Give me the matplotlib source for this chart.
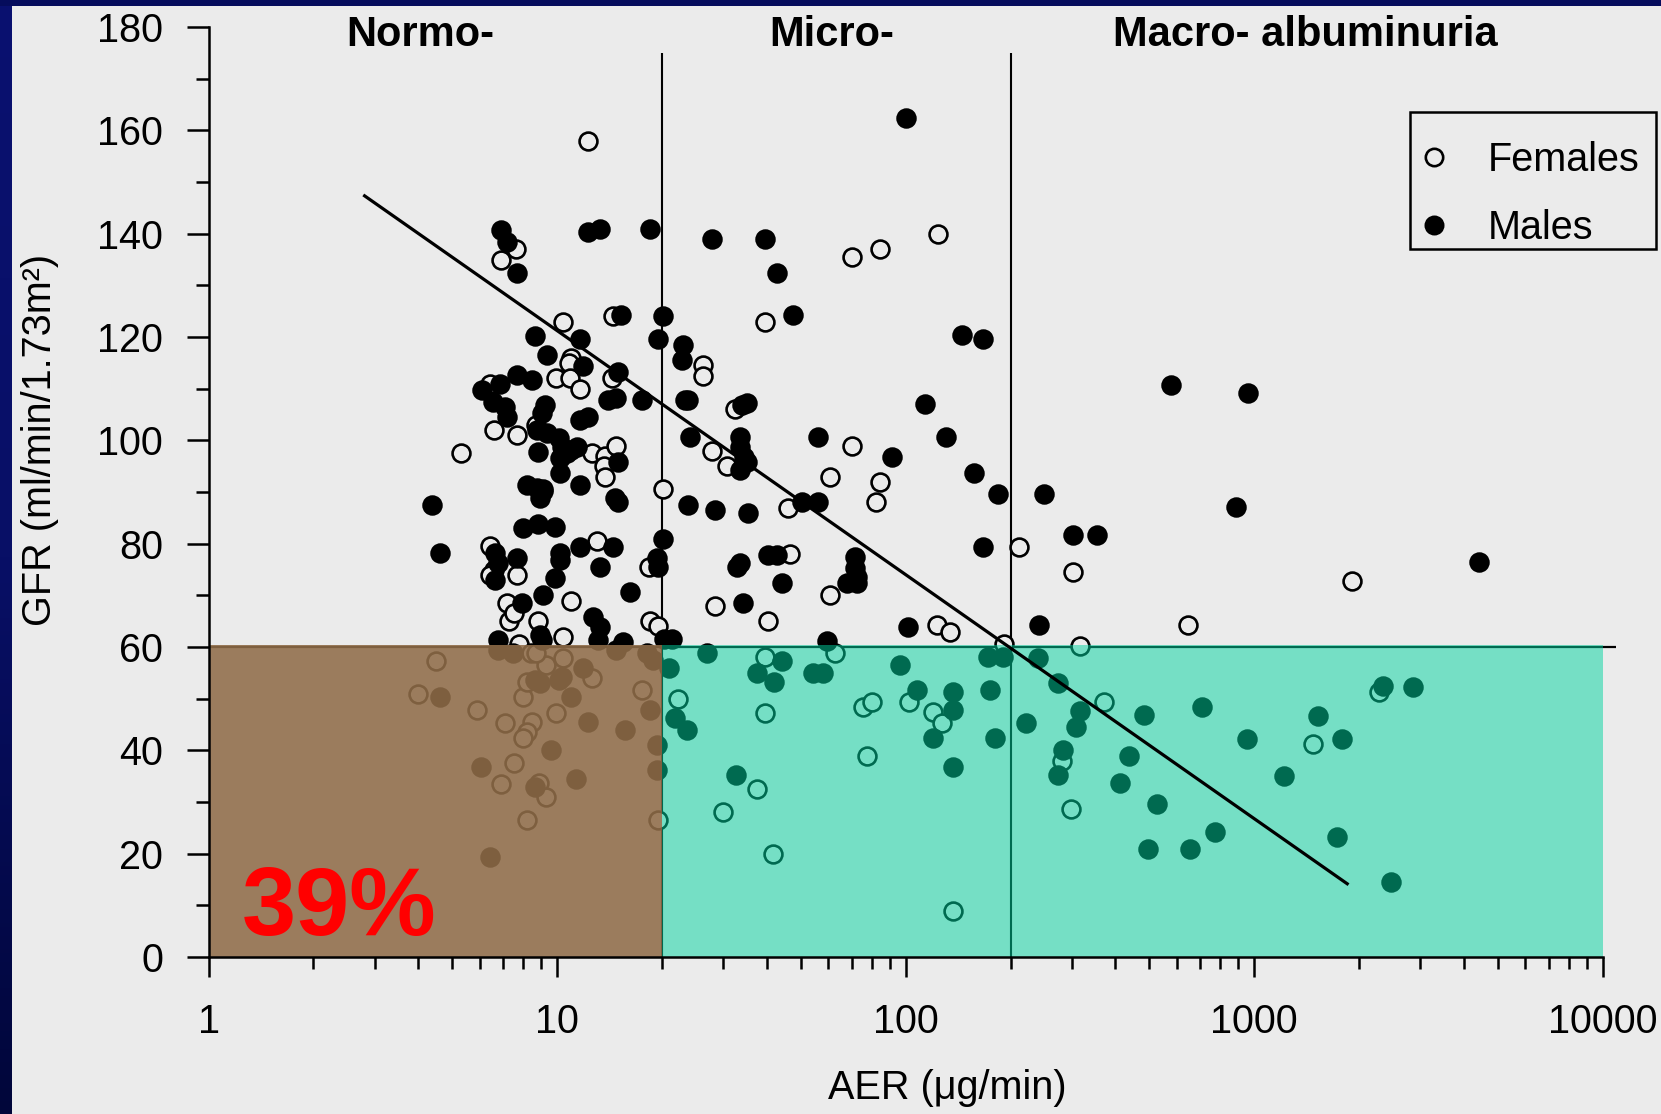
import numpy as np
import matplotlib
matplotlib.use('Agg')
import matplotlib.pyplot as plt
from matplotlib.patches import Rectangle
from matplotlib.lines import Line2D
from matplotlib.colors import LinearSegmentedColormap
from matplotlib.ticker import FixedLocator, LogLocator, NullFormatter

plt.rcParams['font.family'] = ['Liberation Sans', 'DejaVu Sans']

# ---------------- data ----------------
series_names = ['Females', 'Males']
region_titles = ['Normo-', 'Micro-', 'Macro- albuminuria']
thresholds_aer = [20, 200]
gfr_cut = 60
share_label = '39%'

x_major = [1, 10, 100, 1000, 10000]
x_labels = ['1', '10', '100', '1000', '10000']
y_major = [0, 20, 40, 60, 80, 100, 120, 140, 160, 180]

female_aer = [12.3, 7.6, 6.9, 10.4, 11.0, 10.8, 9.9, 10.9, 11.6, 14.4,
              6.4, 6.6, 7.7, 8.7, 5.3, 12.6, 13.7, 13.6, 13.7, 14.8,
              9.1, 20.2, 6.4, 6.6, 6.4, 7.7, 13.0, 11.0, 7.2, 7.3,
              7.5, 8.8, 18.3, 18.5, 19.5, 10.4, 14.5, 124, 84.5, 70,
              39.5, 26.3, 26.3, 32.4, 27.8, 30.7, 70, 60.7, 84.5, 82.3,
              46, 46.6, 60.7, 28.4, 40.4, 123, 134, 212, 302, 1905,
              644, 316, 192, 7.8,
              4.5, 4.0, 5.9, 7.1, 8.0, 8.5, 8.2, 8.0, 7.5, 6.9,
              8.9, 9.3, 8.2, 9.9, 9.3, 10.4, 8.2, 8.4, 8.7, 12.6,
              17.5, 19.5,
              39.5, 62.8, 22.3, 39.5, 75.7, 80, 102, 120, 127, 77.7,
              37.4, 30, 41.6, 137, 370, 281, 299, 1479, 2280]
female_gfr = [158, 137, 135, 123, 116, 115, 112, 112, 110, 112,
              111, 102, 101, 103, 97.5, 97.5, 97, 95, 93, 99,
              90.5, 90.5, 79.5, 75, 74, 74, 80.5, 69, 68.5, 65,
              66.5, 65, 75.5, 65, 64, 62, 124, 140, 137, 135.5,
              123, 114.5, 112.5, 106, 98, 95, 99, 93, 92, 88,
              87, 78, 70, 68, 65, 64.3, 63, 79.3, 74.6, 72.8,
              64.3, 60.2, 60.5, 60.5,
              57.2, 51, 47.8, 45.3, 50.4, 45.5, 43.6, 42.3, 37.5, 33.5,
              33.7, 31, 26.5, 47.2, 56.5, 57.8, 53.3, 58.8, 58.8, 54,
              51.7, 26.5,
              58, 58.8, 50, 47.2, 48.4, 49.4, 49.4, 47.5, 45.2, 39,
              32.6, 28, 20, 9, 49.3, 38, 28.6, 41.3, 51.2]

male_aer = [100, 6.9, 7.2, 7.7, 12.3, 13.3, 18.5, 27.8, 39.5, 42.7,
            47.6, 15.3, 20.2, 19.5, 23, 22.8, 145, 167, 15, 14,
            14.8, 17.5, 23.3, 23.8, 35, 33.9, 113.7, 24.1, 33.5, 56.2,
            130.7, 33.5, 34.3, 35, 33.5, 91.6, 156.6, 184.6, 50.4, 56.2,
            23.7, 28.4, 35.4, 167, 20.1, 19.3, 19.5, 40.4, 42.7, 32.8,
            33.5, 71.6, 71.6, 72.4, 67.8, 72.4, 44.2, 16.2, 34.2, 101.9,
            14.5, 15, 8.65, 11.6, 9.34, 11.9, 6.08, 6.86, 7.66, 8.46,
            6.57, 7.09, 7.17, 9.24, 9.04, 11.6, 12.3, 8.74, 9.34, 10.1,
            10.3, 11, 11.4, 8.84, 10.2, 10.7, 10.2, 11.6, 8.19, 8.74,
            9.14, 8.94, 14.7, 15, 4.37, 8, 8.84, 9.87, 4.62, 6.64,
            6.79, 6.64, 7.66, 10.2, 10.2, 11.6, 13.3, 9.87, 9.14, 7.92,
            12.7, 13.3, 8.94, 6.76, 9.06, 13.1, 15.5, 20.3, 21.4, 59.4,
            578, 963, 250, 888, 302, 355, 4404, 242,
            4.62, 6.79, 7.49, 8.65, 8.94, 10.1, 10.3, 11, 11.9, 12.3,
            15.7, 18.5, 19.3, 19.3, 9.6, 6.05, 8.65, 11.3, 6.4, 14.8,
            18.1, 18.9,
            20.9, 26.9, 37.4, 41.8, 44.2, 54.4, 58.1, 96.4, 107.7, 137,
            137, 174.7, 172.8, 190.8, 120.2, 180.6, 137, 21.8, 23.6, 32.6,
            240, 274, 221, 316, 308, 282, 274, 484, 436, 413,
            526, 708, 497, 653, 770, 953, 1216, 1520, 1788, 1733,
            2340, 2850, 2466]
male_gfr = [162.3, 140.7, 138.4, 132.3, 140.4, 141, 141, 139, 139, 132.3,
            124.2, 124.2, 124, 119.7, 118.4, 115.5, 120.4, 119.7, 113.3, 107.8,
            108.1, 107.8, 107.8, 107.8, 107.2, 106.8, 107, 100.7, 100.7, 100.7,
            100.7, 98.8, 96.8, 95.9, 94.3, 96.8, 93.6, 89.7, 88.1, 88.1,
            87.5, 86.5, 85.9, 79.4, 81, 77.2, 75.5, 77.8, 77.8, 75.5,
            76.2, 77.5, 75.2, 73.6, 72.3, 72.3, 72.3, 70.7, 68.5, 63.9,
            79.4, 95.9, 120.1, 119.7, 116.5, 114.3, 109.7, 111, 112.6, 111.7,
            107.5, 106.5, 104.6, 106.8, 105.2, 103.9, 104.6, 102, 101.4, 100.4,
            98.8, 98.1, 98.8, 97.8, 96.5, 97.5, 93.6, 91.4, 91.4, 90.7,
            90.1, 88.8, 88.8, 88.1, 87.5, 83, 83.9, 83.3, 78.1, 78.1,
            76.2, 73, 77.2, 78.1, 76.8, 79.4, 75.5, 73.3, 70.1, 68.5,
            65.9, 63.9, 62.3, 61.3, 61.3, 61.3, 61, 61.5, 61.5, 61.2,
            110.7, 109.2, 89.6, 87.1, 81.7, 81.7, 76.5, 64.3,
            50.4, 59.4, 58.8, 53.6, 53, 53.6, 54.2, 50.4, 55.9, 45.5,
            43.9, 47.8, 41, 36.2, 40.1, 36.8, 33, 34.4, 19.4, 59.4,
            58.8, 57.5,
            55.9, 58.8, 54.9, 53.3, 57.2, 54.9, 54.9, 56.5, 51.7, 51.3,
            47.8, 51.7, 58.1, 58.1, 42.3, 42.3, 36.8, 46.2, 43.9, 35.2,
            57.9, 53.1, 45.2, 47.7, 44.5, 40, 35.2, 46.9, 39, 33.6,
            29.6, 48.3, 20.9, 20.9, 24.1, 42.1, 35, 46.7, 42.1, 23.2,
            52.5, 52.3, 14.6]

fit_aer = [2.78, 1865]
fit_gfr = [147.5, 14.0]

# ---------------- style ----------------
BG = '#ebebeb'
BROWN = '#906d49'
TEAL = '#00d4a0'
FS = 28.5
W, H = 1661, 1114

fig = plt.figure(figsize=(W / 100, H / 100), dpi=100, facecolor=BG)

# navy frame (left gradient band + top band)
gax = fig.add_axes([0, 0, 12 / W, 1])
grad = np.linspace(0, 1, 256).reshape(-1, 1)
cmap = LinearSegmentedColormap.from_list('navy', ['#0a1170', '#080f66', '#01063a'])
gax.imshow(grad, aspect='auto', cmap=cmap, extent=[0, 1, 0, 1], origin='upper')
gax.axis('off')
fig.add_artist(Rectangle((0, 1 - 6 / H), 1, 6 / H, transform=fig.transFigure,
                         facecolor='#050c5c', edgecolor='none', zorder=10))

ax = fig.add_axes([0.12553, 0.14093, 0.83938, 0.83483])
ax.set_facecolor('none')
ax.set_xscale('log')
ax.set_xlim(1, 10000)
ax.set_ylim(0, 180)

# points
ax.scatter(female_aer, female_gfr, s=165, facecolors=BG, edgecolors='black',
           linewidths=1.9, zorder=2)
ax.scatter(male_aer, male_gfr, s=165, facecolors='black', edgecolors='black',
           linewidths=1.9, zorder=2.1)

# threshold lines
ax.vlines(thresholds_aer, 0, 175, color='black', lw=1.5, zorder=1.5)
ax.hlines(gfr_cut, 1, 10900, color='black', lw=1.6, zorder=1.5, clip_on=False)

# shaded regions (drawn over the points, translucent)
ax.add_patch(Rectangle((1, 0), thresholds_aer[0] - 1, gfr_cut + 0.4, facecolor=BROWN,
                       alpha=0.88, lw=0, zorder=3))
ax.add_patch(Rectangle((thresholds_aer[0], 0), 10000 - thresholds_aer[0], gfr_cut + 0.4,
                       facecolor=TEAL, alpha=0.5, lw=0, zorder=3))

# regression line
ax.plot(fit_aer, fit_gfr, color='black', lw=2.3, zorder=4, solid_capstyle='butt')

# big percentage
ax.text(0.0237, 0.0237, share_label, transform=ax.transAxes, fontsize=70,
        fontweight='bold', color='#ff0000', ha='left', va='baseline', zorder=6)

# region headers
for xpos, t in zip([0.152, 0.447, 0.7865], region_titles):
    ax.text(xpos, 0.9912, t, transform=ax.transAxes, ha='center', va='center',
            fontsize=30, fontweight='bold', zorder=6)

# axes styling
ax.xaxis.set_major_locator(FixedLocator(x_major))
ax.set_xticklabels(x_labels)
ax.xaxis.set_minor_locator(LogLocator(base=10, subs=np.arange(2, 10)))
ax.xaxis.set_minor_formatter(NullFormatter())
ax.set_yticks(y_major)
ax.set_yticks(np.arange(10, 180, 20), minor=True)
ax.tick_params(axis='x', which='major', direction='out', length=14.4, width=1.8,
               pad=19, labelsize=FS)
ax.tick_params(axis='x', which='minor', direction='out', length=8.6, width=1.8)
ax.tick_params(axis='y', which='major', direction='out', length=15.8, width=1.8,
               pad=17, labelsize=FS)
ax.tick_params(axis='y', which='minor', direction='out', length=9.4, width=1.8)
for s in ['top', 'right']:
    ax.spines[s].set_visible(False)
for s in ['left', 'bottom']:
    ax.spines[s].set_linewidth(1.8)
    ax.spines[s].set_zorder(5)

ax.set_xlabel('AER (μg/min)', fontsize=FS)
ax.xaxis.set_label_coords(0.530, -0.141)
ax.xaxis.label.set_va('center')
ax.set_ylabel('GFR (ml/min/1.73m²)', fontsize=FS)
ax.yaxis.set_label_coords(-0.121, 0.556)
ax.yaxis.label.set_va('center')

# legend (entries placed by the legend, box drawn to the reference size)
handles = [Line2D([], [], ls='none', marker='o', markersize=12.5, markerfacecolor=BG,
                  markeredgecolor='black', markeredgewidth=1.9),
           Line2D([], [], ls='none', marker='o', markersize=12.5, markerfacecolor='black',
                  markeredgecolor='black', markeredgewidth=1.9)]
leg = ax.legend(handles, series_names, loc='upper left',
                bbox_to_anchor=(1406.5 / W, 1 - 126.8 / H),
                bbox_transform=fig.transFigure, borderaxespad=0, fontsize=FS,
                frameon=False, handlelength=0.7, handletextpad=1.0, borderpad=0.35,
                labelspacing=0.77)
leg.set_zorder(7)
fig.add_artist(Rectangle((1410 / W, 1 - 249 / H), 245.7 / W, 136.7 / H,
                         transform=fig.transFigure, facecolor='none',
                         edgecolor='black', lw=1.8, zorder=7))

fig.savefig('out.png', dpi=100, facecolor=BG)
